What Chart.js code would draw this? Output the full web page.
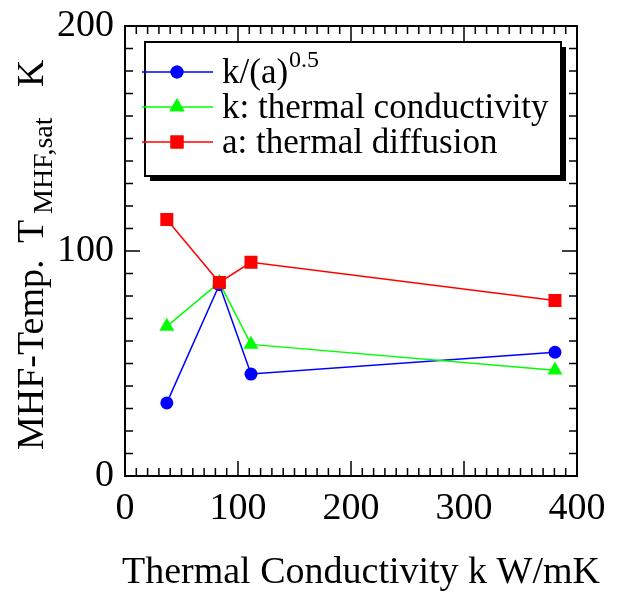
<!DOCTYPE html>
<html>
<head>
<meta charset="utf-8">
<script src="https://cdn.jsdelivr.net/npm/chart.js@4"></script>
<style>
  html, body { margin: 0; padding: 0; background: #fff; }
  #wrap { width: 619px; height: 592px; }
</style>
</head>
<body>
<div id="wrap"><canvas id="my_chart" width="619" height="592"></canvas></div>
<script>
// thermal conductivity of each material (x), W/mK
var conductivity = [37, 83.5, 111.5, 380.5]
// MHF temperature by each correlation, K
var sqrtSeries = [32.5, 85, 45.3, 55]
var kSeries = [66.5, 86, 58.5, 47]
var aSeries = [114, 86, 95, 78]

var legendLabels = ['k/(a)', 'k: thermal conductivity', 'a: thermal diffusion']
var xTickLabels = ['0', '100', '200', '300', '400']
var yTickLabels = ['0', '100', '200']

const SERIF = '"Liberation Serif", "Times New Roman", serif'
const BLUE = '#0000ff', GREEN = '#00ff00', RED = '#ff0000'

function pts(ys) {
  return conductivity.map((x, i) => ({x: x, y: ys[i]}))
}

// frame with inward ticks on all sides, legend box and axis titles
const decorations = {
  id: 'decorations',
  afterDraw(chart) {
    const ctx = chart.ctx
    const a = chart.chartArea
    const xs = chart.scales.x, ys = chart.scales.y
    ctx.save()
    ctx.strokeStyle = '#000'
    ctx.lineWidth = 2
    ctx.strokeRect(a.left, a.top, a.right - a.left, a.bottom - a.top)
    ctx.lineWidth = 1.5
    ctx.beginPath()
    for (let v = 0; v <= 400; v += 10) {
      const p = xs.getPixelForValue(v)
      const len = v % 100 === 0 ? 15 : 8
      ctx.moveTo(p, a.bottom); ctx.lineTo(p, a.bottom - len)
      ctx.moveTo(p, a.top); ctx.lineTo(p, a.top + len)
    }
    for (let v = 0; v <= 200; v += 10) {
      const p = ys.getPixelForValue(v)
      const len = v % 100 === 0 ? 15 : 8
      ctx.moveTo(a.left, p); ctx.lineTo(a.left + len, p)
      ctx.moveTo(a.right, p); ctx.lineTo(a.right - len, p)
    }
    ctx.stroke()

    // legend
    const bx = 145, by = 42, bw = 416, bh = 134
    ctx.fillStyle = '#000'
    ctx.fillRect(bx + 5, by + 5, bw, bh)
    ctx.fillStyle = '#fff'
    ctx.fillRect(bx, by, bw, bh)
    ctx.lineWidth = 2
    ctx.strokeRect(bx, by, bw, bh)

    const colors = [BLUE, GREEN, RED]
    const styles = ['circle', 'triangle', 'rect']
    const radii = [6.5, 8.7, 9.2]
    const rows = [72, 107, 142]
    for (let i = 0; i < 3; i++) {
      const y = rows[i]
      ctx.strokeStyle = colors[i]
      ctx.lineWidth = 1.5
      ctx.beginPath(); ctx.moveTo(142, y); ctx.lineTo(213, y); ctx.stroke()
      ctx.fillStyle = colors[i]
      Chart.helpers.drawPoint(ctx, {pointStyle: styles[i], radius: radii[i], borderWidth: 0, rotation: 0}, 177, y)
      ctx.fill()
      ctx.fillStyle = '#000'
      ctx.font = '35px ' + SERIF
      ctx.textBaseline = 'alphabetic'
      ctx.textAlign = 'left'
      ctx.fillText(legendLabels[i], 222, y + 11)
      if (i === 0) {
        const w = ctx.measureText(legendLabels[i]).width
        ctx.font = '24px ' + SERIF
        ctx.fillText('0.5', 222 + w + 1, y - 5)
      }
    }

    // x title
    ctx.fillStyle = '#000'
    ctx.font = '38px ' + SERIF
    ctx.textAlign = 'center'
    ctx.fillText('Thermal Conductivity k W/mK', 361, 583)

    // y title, rotated, with subscript
    ctx.translate(43, 450)
    ctx.rotate(-Math.PI / 2)
    ctx.textAlign = 'left'
    ctx.font = '38px ' + SERIF
    ctx.fillText('MHF-Temp.', 0, 0)
    ctx.fillText('T', 207, 0)
    ctx.font = '28px ' + SERIF
    ctx.fillText('MHF,sat', 236, 9)
    ctx.font = '38px ' + SERIF
    ctx.fillText('K', 363, 0)
    ctx.restore()
  }
}

const ctx = document.getElementById('my_chart').getContext('2d')
const my_chart = new Chart(ctx, {
  type: 'scatter',
  data: {
    datasets: [
      {
        label: legendLabels[0],
        data: pts(sqrtSeries),
        borderColor: BLUE, backgroundColor: BLUE,
        pointStyle: 'circle', pointRadius: 6.5, order: 2
      },
      {
        label: legendLabels[1],
        data: pts(kSeries),
        borderColor: GREEN, backgroundColor: GREEN,
        pointStyle: 'triangle', pointRadius: 8.7, order: 1
      },
      {
        label: legendLabels[2],
        data: pts(aSeries),
        borderColor: RED, backgroundColor: RED,
        pointStyle: 'rect', pointRadius: 9.2, order: 0
      }
    ]
  },
  options: {
    responsive: false,
    animation: false,
    showLine: true,
    elements: {
      line: { borderWidth: 1.5, tension: 0 },
      point: { borderWidth: 0, hoverRadius: 0 }
    },
    layout: { padding: { top: 26, right: 42, left: 0, bottom: 0 } },
    scales: {
      x: {
        type: 'linear', min: 0, max: 400,
        afterFit: s => { s.height = 116 },
        afterBuildTicks: s => { s.ticks = xTickLabels.map(v => ({value: +v})) },
        grid: { display: false },
        border: { display: false },
        ticks: {
          color: '#000', padding: 2, maxRotation: 0,
          font: { family: SERIF, size: 38 },
          callback: (v, i) => xTickLabels[i]
        }
      },
      y: {
        type: 'linear', min: 0, max: 200,
        afterFit: s => { s.width = 125 },
        afterBuildTicks: s => { s.ticks = yTickLabels.map(v => ({value: +v})) },
        grid: { display: false },
        border: { display: false },
        ticks: {
          color: '#000', padding: 3,
          font: { family: SERIF, size: 38 },
          callback: (v, i) => yTickLabels[i]
        }
      }
    },
    plugins: {
      legend: { display: false },
      tooltip: { enabled: false }
    }
  },
  plugins: [decorations]
})
</script>
</body>
</html>
